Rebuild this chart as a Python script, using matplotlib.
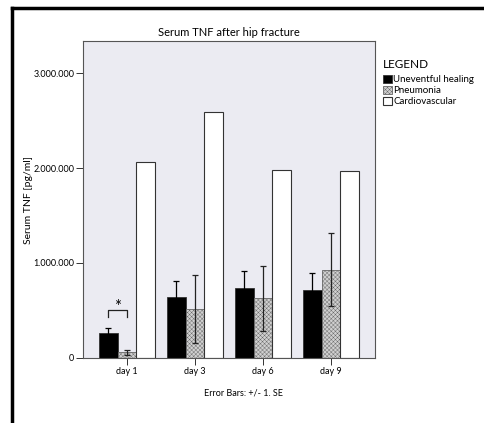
import matplotlib
matplotlib.use("Agg")
import matplotlib.pyplot as plt
import numpy as np
from matplotlib.lines import Line2D

# data
days = ["day 1", "day 3", "day 6", "day 9"]
uneventful = [260000, 640000, 740000, 710000]
uneventful_se = [55000, 170000, 170000, 185000]
pneumonia = [55000, 515000, 625000, 930000]
pneumonia_se = [22000, 355000, 340000, 385000]
cardiovascular = [2060000, 2595000, 1977000, 1970000]
yticks = [0, 1000000, 2000000, 3000000]

plt.rcParams["font.family"] = ["Lato", "DejaVu Sans"]
plt.rcParams["hatch.linewidth"] = 0.3

fig = plt.figure(figsize=(4.84, 4.23), dpi=100)
ax = fig.add_axes([0.172, 0.1544, 0.603, 0.7475])
ax.set_facecolor("#ebebf2")

x = np.arange(len(days))
w = 0.275
edge = "#333333"

b1 = ax.bar(x - w, uneventful, w, color="black", edgecolor=edge, linewidth=0.6, zorder=2)
b2 = ax.bar(x, pneumonia, w, color="#d0d0d0", edgecolor="#666666", hatch="xxxxxxxx",
            linewidth=0.6, zorder=2)
b3 = ax.bar(x + w, cardiovascular, w, color="white", edgecolor=edge, linewidth=0.8, zorder=2)

ax.errorbar(x - w, uneventful, yerr=uneventful_se, fmt="none", ecolor="black",
            elinewidth=0.9, capsize=2.2, capthick=0.9, zorder=3)
ax.errorbar(x, pneumonia, yerr=pneumonia_se, fmt="none", ecolor="#222222",
            elinewidth=0.9, capsize=2.2, capthick=0.9, zorder=3)

# significance bracket day 1
ax.plot([x[0] - w, x[0] - w, x[0], x[0]], [430000, 500000, 500000, 430000],
        color="#222222", lw=0.9, zorder=3)
ax.text(x[0] - w / 2, 530000, "*", ha="center", va="center", fontsize=12)

ax.set_xlim(-0.643, 3.647)
ax.set_ylim(0, 3335000)
ax.set_xticks(x)
ax.set_xticklabels(days, fontsize=6.5)
ax.set_yticks(yticks)
ax.set_yticklabels(["{:,}".format(v).replace(",", ".") for v in yticks], fontsize=6.5)
ax.tick_params(axis="both", length=5, width=0.7, color="#333333", pad=1.5)
for s in ax.spines.values():
    s.set_color("#555555")
    s.set_linewidth(0.8)

ax.set_ylabel("Serum TNF [pg/ml]", fontsize=7.5, labelpad=0)
ax.set_title("Serum TNF after hip fracture", fontsize=8, pad=4)
fig.text(243 / 484, 1 - 393 / 423, "Error Bars: +/- 1. SE", ha="center", va="center",
         fontsize=6.5)

fig.text(383 / 484, 1 - 64 / 423, "LEGEND", ha="left", va="center", fontsize=8.5)
leg = fig.legend([b1, b2, b3], ["Uneventful healing", "Pneumonia", "Cardiovascular"],
                 loc="upper left", bbox_to_anchor=(383 / 484, 1 - 75 / 423),
                 frameon=False, fontsize=7, handlelength=0.9,
                 handleheight=0.9, handletextpad=0.15, labelspacing=0.15,
                 borderpad=0, borderaxespad=0)

# outer frame of the figure
fig.add_artist(Line2D([12 / 484, 12 / 484], [0, 1 - 8 / 423], color="black", lw=2.5,
                      transform=fig.transFigure))
fig.add_artist(Line2D([12 / 484, 1], [1 - 8 / 423, 1 - 8 / 423], color="black", lw=2.5,
                      transform=fig.transFigure))

fig.savefig("out.png", dpi=100)
